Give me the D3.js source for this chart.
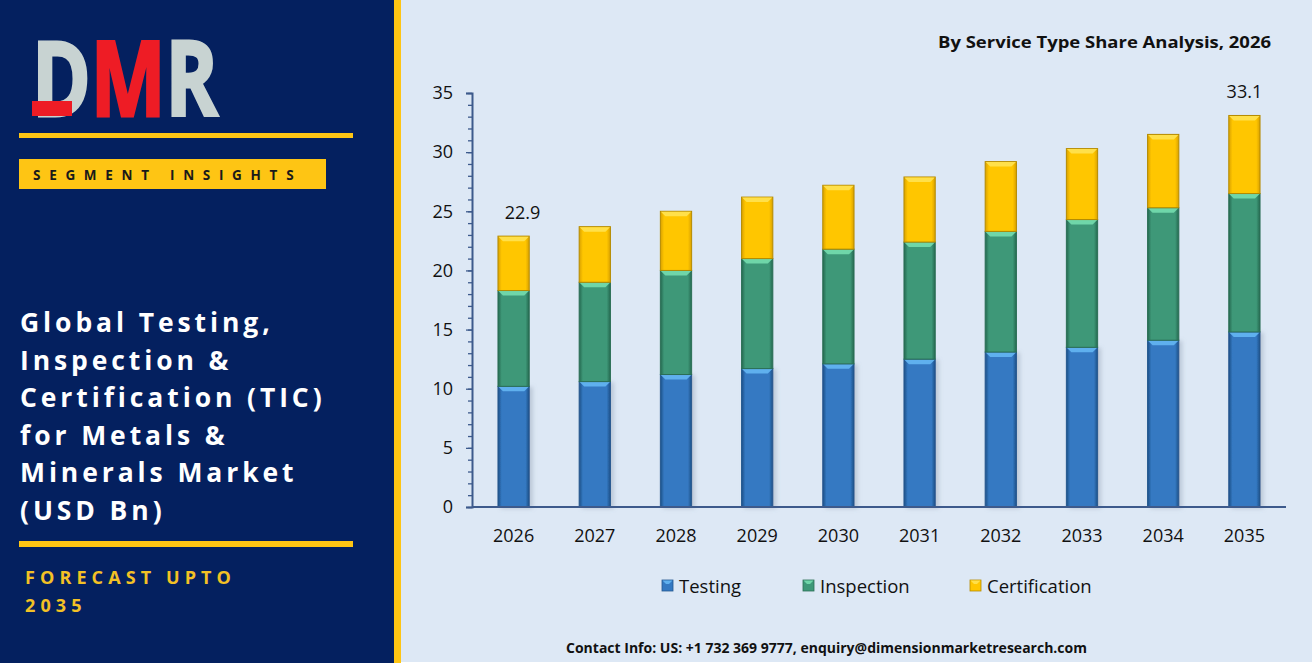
<!DOCTYPE html>
<html>
<head>
<meta charset="utf-8">
<script src="https://cdn.jsdelivr.net/npm/d3@7"></script>
<style>
  html, body { margin: 0; padding: 0; background: #ffffff; }
  svg { display: block; }
</style>
</head>
<body>
<svg id="chart" width="1312" height="668"></svg>
<script>
// ---------- DATA ----------
const years = ["2026", "2027", "2028", "2029", "2030", "2031", "2032", "2033", "2034", "2035"];
const seriesNames = ["Testing", "Inspection", "Certification"];
const testing =       [10.2, 10.6, 11.2, 11.7, 12.1, 12.5, 13.1, 13.5, 14.1, 14.8];
const inspection =    [ 8.1,  8.4,  8.8,  9.3,  9.7,  9.9, 10.2, 10.8, 11.2, 11.7];
const certification = [ 4.6,  4.7,  5.0,  5.2,  5.4,  5.5,  5.9,  6.0,  6.2,  6.6];
const totalLabels = [{ year: "2026", text: "22.9", value: 22.9 }, { year: "2035", text: "33.1", value: 33.1 }];
const yTicks = [0, 5, 10, 15, 20, 25, 30, 35];
const titleLines = ["Global Testing,", "Inspection &", "Certification (TIC)", "for Metals &", "Minerals Market", "(USD Bn)"];

// ---------- STYLE ----------
const navy = "#04205f";
const gold = "#fec514";
const chartBg = "#dde8f5";
const palette = {
  Testing:       { base: "#3479c2", light: "#5fb0ee", dark: "#1d4f86", edge: "#24588f" },
  Inspection:    { base: "#3e9878", light: "#6fd6a9", dark: "#24684f", edge: "#2b6f55" },
  Certification: { base: "#ffc600", light: "#ffe04a", dark: "#d9a100", edge: "#b58b00" }
};

const svg = d3.select("#chart");
const defs = svg.append("defs");

// backgrounds
svg.append("rect").attr("x", 0).attr("y", 0).attr("width", 1312).attr("height", 668).attr("fill", "#ffffff");
svg.append("rect").attr("x", 400).attr("y", 0).attr("width", 912).attr("height", 662).attr("fill", chartBg);
svg.append("rect").attr("x", 0).attr("y", 0).attr("width", 395).attr("height", 663).attr("fill", navy);
svg.append("rect").attr("x", 394).attr("y", 0).attr("width", 7).attr("height", 663).attr("fill", gold);

// ---------- LEFT PANEL ----------
// logo: one text element, coloured per letter with a hard-stop gradient
const logoGrad = defs.append("linearGradient").attr("id", "logoGrad")
  .attr("gradientUnits", "userSpaceOnUse").attr("x1", 32).attr("x2", 218).attr("y1", 0).attr("y2", 0);
[[0, "#c8d3d2"], [0.32, "#c8d3d2"], [0.32, "#ee1c25"], [0.715, "#ee1c25"], [0.715, "#c8d3d2"], [1, "#c8d3d2"]]
  .forEach(([o, c]) => logoGrad.append("stop").attr("offset", o).attr("stop-color", c));
svg.append("text")
  .attr("x", 32).attr("y", 116)
  .attr("font-family", "'Open Sans', sans-serif")
  .attr("font-weight", 700)
  .attr("font-size", 104)
  .attr("textLength", 186).attr("lengthAdjust", "spacingAndGlyphs")
  .attr("fill", "url(#logoGrad)")
  .attr("stroke", "url(#logoGrad)").attr("stroke-width", 3)
  .text("DMR");
svg.append("rect").attr("x", 32).attr("y", 101).attr("width", 40).attr("height", 15).attr("fill", "#ee1c25");

svg.append("rect").attr("x", 19).attr("y", 133).attr("width", 334).attr("height", 5).attr("fill", gold);
svg.append("rect").attr("x", 19).attr("y", 159).attr("width", 307).attr("height", 30).attr("fill", gold);
svg.append("text")
  .attr("x", 33).attr("y", 180)
  .attr("font-family", "'Open Sans', sans-serif").attr("font-weight", 700)
  .attr("font-size", 13.5).attr("letter-spacing", "8.7px")
  .attr("fill", "#1a1a1a")
  .text("SEGMENT INSIGHTS");

svg.append("g").selectAll("text").data(titleLines).join("text")
  .attr("x", 20)
  .attr("y", (d, i) => 332 + i * 37.6)
  .attr("font-family", "'Open Sans', sans-serif").attr("font-weight", 700)
  .attr("font-size", 26.5).attr("letter-spacing", "3.9px")
  .attr("fill", "#ffffff")
  .text(d => d);

svg.append("rect").attr("x", 19).attr("y", 541).attr("width", 334).attr("height", 6).attr("fill", gold);
svg.append("text")
  .attr("x", 25).attr("y", 584)
  .attr("font-family", "'Open Sans', sans-serif").attr("font-weight", 700)
  .attr("font-size", 18).attr("letter-spacing", "5.1px")
  .attr("fill", "#f3c125")
  .text("FORECAST UPTO");
svg.append("text")
  .attr("x", 25).attr("y", 612)
  .attr("font-family", "'Open Sans', sans-serif").attr("font-weight", 700)
  .attr("font-size", 18).attr("letter-spacing", "5.1px")
  .attr("fill", "#f3c125")
  .text("2035");

// ---------- CHART ----------
svg.append("text")
  .attr("x", 1271).attr("y", 48)
  .attr("text-anchor", "end")
  .attr("font-family", "'Open Sans', sans-serif").attr("font-weight", 700)
  .attr("font-size", 16.5)
  .attr("textLength", 333).attr("lengthAdjust", "spacingAndGlyphs")
  .attr("fill", "#111111")
  .text("By Service Type Share Analysis, 2026");

const x = d3.scaleBand().domain(years).range([473, 1285]).paddingInner(0.615).paddingOuter(0.3075);
const y = d3.scaleLinear().domain([0, 35]).range([507, 93]);

seriesNames.forEach(name => {
  const c = palette[name];
  const g = defs.append("linearGradient").attr("id", "grad-" + name).attr("x1", "0").attr("x2", "1").attr("y1", "0").attr("y2", "0");
  g.append("stop").attr("offset", "0%").attr("stop-color", c.dark);
  g.append("stop").attr("offset", "12%").attr("stop-color", c.base);
  g.append("stop").attr("offset", "88%").attr("stop-color", c.base);
  g.append("stop").attr("offset", "100%").attr("stop-color", c.dark);
});
const shadow = defs.append("filter").attr("id", "shadow").attr("x", "-20%").attr("y", "-10%").attr("width", "150%").attr("height", "120%");
shadow.append("feDropShadow").attr("dx", 3).attr("dy", 1).attr("stdDeviation", 2).attr("flood-color", "#7d8aa0").attr("flood-opacity", 0.35);

const table = years.map((yr, i) => ({ year: yr, Testing: testing[i], Inspection: inspection[i], Certification: certification[i] }));
const stacked = d3.stack().keys(seriesNames)(table);

// axes
const yAxisMinor = d3.axisLeft(y).tickValues(d3.range(0, 36, 1)).tickSize(4).tickFormat("");
const gMinor = svg.append("g").attr("transform", "translate(472,0)").call(yAxisMinor);
gMinor.select(".domain").remove();
gMinor.selectAll("line").attr("stroke", "#3d5a8c").attr("stroke-width", 1.3);

const yAxis = d3.axisLeft(y).tickValues(yTicks).tickSize(6).tickPadding(13);
const gy = svg.append("g").attr("transform", "translate(472,0)").call(yAxis);
gy.select(".domain").attr("stroke", "#3d5a8c").attr("stroke-width", 2);
gy.selectAll("line").attr("stroke", "#3d5a8c").attr("stroke-width", 1.3);
gy.selectAll("text").attr("font-family", "'Open Sans', sans-serif").attr("font-size", 18).attr("fill", "#111");

// bars
const barsG = svg.append("g");
stacked.forEach(layer => {
  const name = layer.key;
  const c = palette[name];
  const g = barsG.append("g").attr("class", "series-" + name);
  layer.forEach((d, i) => {
    const x0 = x(years[i]);
    const w = x.bandwidth();
    const yt = y(d[1]);
    const yb = y(d[0]);
    const h = yb - yt;
    const bev = Math.min(5, h / 3);
    g.append("rect")
      .attr("x", x0).attr("y", yt).attr("width", w).attr("height", h)
      .attr("fill", `url(#grad-${name})`)
      .attr("stroke", c.edge).attr("stroke-width", 1)
      .attr("filter", name === "Testing" ? "url(#shadow)" : null);
    g.append("path")
      .attr("d", `M${x0 + 0.5},${yt + 0.5} L${x0 + w - 0.5},${yt + 0.5} L${x0 + w - 5},${yt + bev} L${x0 + 5},${yt + bev} Z`)
      .attr("fill", c.light);
  });
});

// x axis
const xAxis = d3.axisBottom(x).tickSize(0).tickPadding(22);
const gx = svg.append("g").attr("transform", "translate(0,507)").call(xAxis);
gx.select(".domain").attr("stroke", "#3d5a8c").attr("stroke-width", 2).attr("d", "M472,0H1286");
gx.selectAll("text").attr("font-family", "'Open Sans', sans-serif").attr("font-size", 18).attr("fill", "#111");

// total labels
svg.append("g").selectAll("text").data(totalLabels).join("text")
  .attr("x", d => x(d.year) + x.bandwidth() / 2 + (d.year === "2026" ? 9 : 0))
  .attr("y", d => y(d.value) - 17)
  .attr("text-anchor", "middle")
  .attr("font-family", "'Open Sans', sans-serif").attr("font-size", 18).attr("fill", "#111")
  .text(d => d.text);

// legend
const legendX = [662, 803, 970];
const lg = svg.append("g");
seriesNames.forEach((name, i) => {
  const c = palette[name];
  lg.append("rect").attr("x", legendX[i]).attr("y", 580).attr("width", 11).attr("height", 11)
    .attr("fill", c.base).attr("stroke", c.edge).attr("stroke-width", 0.8);
  lg.append("path").attr("d", `M${legendX[i] + 0.5},${580.5} L${legendX[i] + 10.5},${580.5} L${legendX[i] + 7},${584} L${legendX[i] + 4},${584} Z`).attr("fill", c.light);
  lg.append("text").attr("x", legendX[i] + 17).attr("y", 593)
    .attr("font-family", "'Open Sans', sans-serif").attr("font-size", 18.5).attr("fill", "#111")
    .text(name);
});

// contact
svg.append("text")
  .attr("x", 566).attr("y", 653)
  .attr("font-family", "'Open Sans', sans-serif").attr("font-weight", 700)
  .attr("font-size", 13.5)
  .attr("textLength", 521).attr("lengthAdjust", "spacingAndGlyphs")
  .attr("fill", "#111")
  .text("Contact Info: US: +1 732 369 9777, enquiry@dimensionmarketresearch.com");
</script>
</body>
</html>
